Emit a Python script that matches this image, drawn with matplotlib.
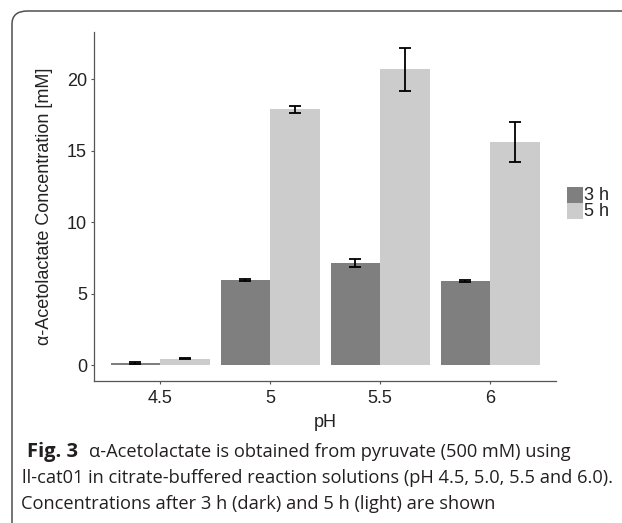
import matplotlib
matplotlib.use("Agg")
import matplotlib.pyplot as plt
import numpy as np
from matplotlib.patches import FancyBboxPatch, Rectangle

# data
ph_labels = ['4.5', '5', '5.5', '6']
conc_3h = [0.15, 5.95, 7.15, 5.9]
err_3h = [0.05, 0.05, 0.25, 0.05]
conc_5h = [0.45, 17.9, 20.7, 15.6]
err_5h = [0.05, 0.25, 1.5, 1.4]

caption_1 = 'α-Acetolactate is obtained from pyruvate (500 mM) using'
caption_2 = 'll-cat01 in citrate-buffered reaction solutions (pH 4.5, 5.0, 5.5 and 6.0).'
caption_3 = 'Concentrations after 3 h (dark) and 5 h (light) are shown'

W, H = 622, 523
fig = plt.figure(figsize=(W / 100, H / 100), dpi=100)

# rounded frame around the figure (runs off at right/bottom)
frame = FancyBboxPatch((12 / W, -0.2), 1.2, (H - 11) / H + 0.2,
                       boxstyle="round,pad=0,rounding_size=0.025",
                       transform=fig.transFigure, fill=False,
                       edgecolor='#505050', linewidth=1.1, clip_on=False)
fig.patches.append(frame)

ax = fig.add_axes([94 / W, (H - 381) / H, (556 - 94) / W, (381 - 32) / H])

x = np.arange(1, len(ph_labels) + 1)
bw = 0.45
dark, light = '#7f7f7f', '#cccccc'
ax.bar(x - bw / 2, conc_3h, bw, color=dark, linewidth=0)
ax.bar(x + bw / 2, conc_5h, bw, color=light, linewidth=0)
ax.errorbar(x - bw / 2, conc_3h, yerr=err_3h, fmt='none', ecolor='black',
            elinewidth=1.3, capsize=4.3, capthick=1.3)
ax.errorbar(x + bw / 2, conc_5h, yerr=err_5h, fmt='none', ecolor='black',
            elinewidth=1.3, capsize=4.3, capthick=1.3)

# ggplot-style expansion
top = max(np.array(conc_5h) + np.array(err_5h))
ax.set_xlim(0.4, 4.6)
ax.set_ylim(-0.05 * top, 1.05 * top)
ax.set_xticks(x)
ax.set_xticklabels(ph_labels)
ax.set_yticks([0, 5, 10, 15, 20])

for s in ['top', 'right']:
    ax.spines[s].set_visible(False)
for s in ['left', 'bottom']:
    ax.spines[s].set_color('#555555')
    ax.spines[s].set_linewidth(0.9)
ax.tick_params(length=2.5, color='#555555', labelsize=13, labelcolor='#222222')
ax.tick_params(axis='x', pad=4)
ax.tick_params(axis='y', pad=2.5)
for lab in ax.get_xticklabels() + ax.get_yticklabels():
    lab.set_family('Liberation Sans')

ax.set_xlabel('pH', fontsize=13, family='Liberation Sans', color='#222222', labelpad=5)
ax.set_ylabel('α-Acetolactate Concentration [mM]', fontsize=13,
              family='Liberation Sans', color='#222222', labelpad=10)

# legend keys
for i, (col, lab) in enumerate([(dark, '3 h'), (light, '5 h')]):
    y0 = 187 + i * 16
    fig.add_artist(Rectangle((567 / W, 1 - (y0 + 16) / H), 16 / W, 16 / H,
                             transform=fig.transFigure, facecolor=col, edgecolor='none'))
    fig.text(584 / W, 1 - (y0 + 8) / H, lab, fontsize=13, family='Liberation Sans',
             color='#222222', va='center', ha='left')

# caption, sized so the longest line fits its measured width
cap_color = '#231f20'
fig.canvas.draw()
renderer = fig.canvas.get_renderer()
probe = fig.text(0, 0, caption_2, fontsize=12, family='Open Sans')
cap_size = 12 * 589 / probe.get_window_extent(renderer).width
probe.remove()

fig.text(27 / W, 1 - 457 / H, 'Fig. 3', fontsize=cap_size * 1.1, weight='bold',
         family='Open Sans', color=cap_color, va='baseline')
fig.text(89 / W, 1 - 457 / H, caption_1, fontsize=cap_size, family='Open Sans',
         color=cap_color, va='baseline')
fig.text(22 / W, 1 - 483 / H, caption_2, fontsize=cap_size, family='Open Sans',
         color=cap_color, va='baseline')
fig.text(21 / W, 1 - 509 / H, caption_3, fontsize=cap_size, family='Open Sans',
         color=cap_color, va='baseline')

fig.savefig('out.png', dpi=100)
